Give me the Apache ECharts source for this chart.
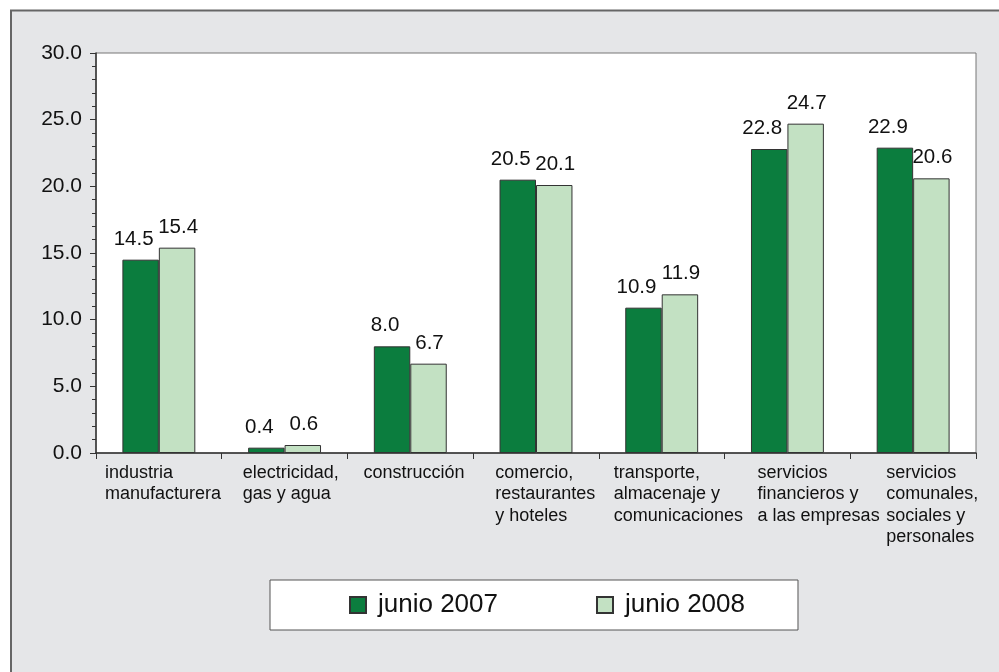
<!DOCTYPE html>
<html>
<head>
<meta charset="utf-8">
<script src="https://cdn.jsdelivr.net/npm/echarts@6/dist/echarts.min.js"></script>
<style>
  html, body { margin: 0; padding: 0; background: #fff; }
  #chart { width: 999px; height: 672px; }
</style>
</head>
<body>
<div id="chart"></div>
<script>
// sectors (x axis)
var categories = [
  'industria\nmanufacturera',
  'electricidad,\ngas y agua',
  'construcción',
  'comercio,\nrestaurantes\ny hoteles',
  'transporte,\nalmacenaje y\ncomunicaciones',
  'servicios\nfinancieros y\na las empresas',
  'servicios\ncomunales,\nsociales y\npersonales'
]
var seriesNames = ['junio 2007', 'junio 2008']
var values2007 = [14.5, 0.4, 8.0, 20.5, 10.9, 22.8, 22.9]
var values2008 = [15.4, 0.6, 6.7, 20.1, 11.9, 24.7, 20.6]
var yTicks = [0, 5, 10, 15, 20, 25, 30]

// layout only: left inset of each sector label from its category start (px)
var labelInset = [9, 21, 16, 22, 15, 33, 36]

var FONT = '"Liberation Sans", Arial, sans-serif'

var rich = {}
labelInset.forEach(function (p, i) {
  rich['c' + i] = { padding: [0, 0, 0, p], fontSize: 18, lineHeight: 21.5, fontFamily: FONT, color: '#111' }
})

var chart = echarts.init(document.getElementById('chart'))

function barSeries(name, data, color, dx) {
  return {
    name: name,
    type: 'bar',
    data: data,
    barGap: 0,
    barCategoryGap: '42%',
    itemStyle: { color: color, borderColor: '#333', borderWidth: 1 },
    label: {
      show: true,
      position: 'top',
      distance: 10,
      offset: [dx, 0],
      fontSize: 20.5,
      fontFamily: FONT,
      color: '#111',
      formatter: function (p) { return p.value.toFixed(1) }
    },
    animation: false
  }
}

chart.setOption({
  backgroundColor: '#fff',
  textStyle: { fontFamily: FONT },
  graphic: [{
    type: 'rect',
    z: -10,
    silent: true,
    shape: { x: 11, y: 10.5, width: 1000, height: 700 },
    style: { fill: '#e5e6e8', stroke: '#666', lineWidth: 2 }
  }],
  grid: {
    left: 96,
    top: 53,
    right: 23,
    bottom: 219,
    show: true,
    backgroundColor: '#fff',
    borderColor: '#777',
    borderWidth: 1
  },
  legend: {
    data: seriesNames,
    left: 270,
    top: 580,
    orient: 'horizontal',
    backgroundColor: '#fff',
    borderColor: '#555',
    borderWidth: 1,
    borderRadius: 0,
    padding: [12, 53, 12, 79],
    itemGap: 98,
    itemWidth: 16,
    itemHeight: 16,
    icon: 'rect',
    textStyle: { fontSize: 26, fontFamily: FONT, color: '#111', padding: [0, 0, 0, 7] }
  },
  xAxis: [{
    type: 'category',
    data: categories,
    axisLine: { lineStyle: { color: '#333', width: 1.5 } },
    axisTick: { show: true, length: 6, lineStyle: { color: '#333' } },
    axisLabel: { show: false }
  }, {
    // carries the sector names, anchored at the category boundaries
    type: 'value',
    position: 'bottom',
    min: 0,
    max: categories.length,
    interval: 1,
    axisLine: { show: false },
    axisTick: { show: false },
    splitLine: { show: false },
    axisLabel: {
      show: true,
      align: 'left',
      margin: 9,
      hideOverlap: false,
      showMinLabel: true,
      showMaxLabel: true,
      formatter: function (v) {
        var c = categories[v]
        if (!c) return ''
        return c.split('\n').map(function (l) { return '{c' + v + '|' + l + '}' }).join('\n')
      },
      rich: rich
    }
  }],
  yAxis: {
    type: 'value',
    min: yTicks[0],
    max: yTicks[yTicks.length - 1],
    interval: 5,
    axisLine: { show: true, lineStyle: { color: '#333', width: 1.5 } },
    axisTick: { show: true, length: 6, lineStyle: { color: '#333' } },
    minorTick: { show: true, splitNumber: 5, length: 4, lineStyle: { color: '#333' } },
    splitLine: { show: false },
    axisLabel: {
      margin: 14,
      fontSize: 21,
      fontFamily: FONT,
      color: '#111',
      formatter: function (v) { return v.toFixed(1) }
    }
  },
  series: [
    barSeries(seriesNames[0], values2007, '#0b7d3e', -7),
    barSeries(seriesNames[1], values2008, '#c3e1c3', 1)
  ]
})
</script>
</body>
</html>
